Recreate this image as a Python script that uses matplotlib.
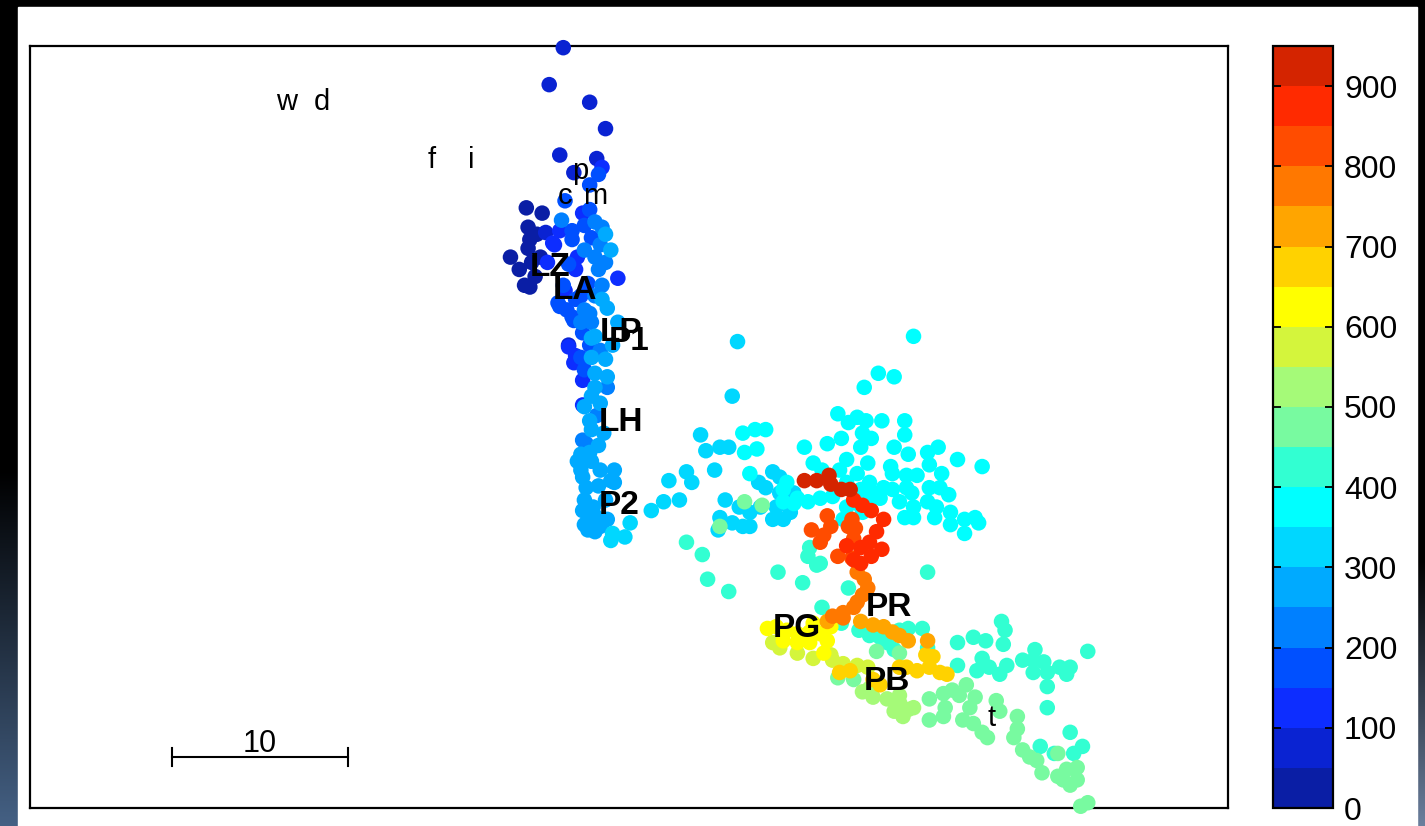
import numpy as np
import matplotlib
matplotlib.use('Agg')
import matplotlib.pyplot as plt
from matplotlib.colors import ListedColormap, BoundaryNorm
from matplotlib.cm import ScalarMappable
from matplotlib.patches import Rectangle

plt.rcParams['font.family'] = ['Liberation Sans', 'DejaVu Sans']

# colour scale: 19 bands of 50, 0..950
band_colors = ['#0A1EA5', '#0A23D2', '#0D2DFF', '#0050FF', '#0080FF', '#00AAFF',
               '#00D7FF', '#00FFFF', '#32FFD2', '#78FAA0', '#A5FA78', '#D4F53C',
               '#FFFF00', '#FFD200', '#FFA500', '#FF7800', '#FF4C00', '#FF2A00', '#D42400']
levels = list(range(0, 1000, 50))
cbar_ticks = list(range(0, 1000, 100))

# points (km), grouped by value
x_v25 = [28.2, 29.1, 28.3, 28.8, 28.4, 28.3, 27.3, 27.8, 28.4, 28.7, 29.0, 28.5, 28.1]
y_v25 = [34.1, 33.8, 33.0, 32.6, 32.3, 31.8, 31.3, 30.6, 29.6, 30.2, 31.3, 31.0, 29.7]

x_v75 = [30.3, 29.5, 31.8, 32.7, 30.1, 32.2, 30.9, 30.6, 29.3]
y_v75 = [43.2, 41.1, 40.1, 38.6, 37.1, 36.9, 36.1, 26.3, 32.7]

x_v125 = [32.5, 31.4, 31.1, 31.0, 33.4, 29.8, 30.6, 30.9, 31.4, 31.4, 29.7,
          30.1, 29.4, 30.4, 31.0]
y_v125 = [36.4, 33.8, 31.3, 30.6, 30.1, 32.0, 26.2, 25.3, 24.3, 22.9, 32.1,
          32.8, 31.0, 29.4, 25.7]

x_v175 = [32.3, 31.8, 30.8, 31.8, 31.9, 31.7, 30.8, 30.0, 30.5, 30.9, 31.4, 31.3, 30.1, 30.8, 31.5,
          30.4, 31.5, 30.6, 31.3, 30.3, 31.0, 31.8]
y_v175 = [36.0, 35.4, 32.8, 34.0, 32.4, 29.8, 32.3, 28.7, 28.3, 27.7, 27.0, 25.6, 28.5, 27.9, 24.9,
          34.5, 33.1, 30.9, 29.1, 29.7, 28.9, 26.3]

x_v225 = [30.2, 32.1, 32.5, 32.1, 32.3, 32.5, 31.5, 31.9, 31.8, 32.8, 31.6,
          32.4, 31.5, 32.7, 32.1, 31.3, 32.4, 32.2, 31.4]
y_v225 = [33.4, 33.3, 33.0, 31.3, 30.6, 29.7, 28.3, 27.6, 28.1, 23.9, 20.7,
          32.0, 31.7, 31.0, 29.1, 27.6, 26.0, 22.3, 20.9]

x_v275 = [32.8, 33.4, 32.1, 31.9, 32.7, 32.1, 32.8, 32.1, 31.9, 31.9, 32.4, 31.8, 31.9, 32.6, 31.3,
          31.8, 31.3, 32.4, 33.0, 31.6, 31.4, 32.0, 31.8, 32.4, 32.1, 33.2, 31.5, 32.1, 31.7,
          32.7, 33.0, 32.5, 33.1, 31.5, 32.3, 31.9, 31.1, 32.7, 31.4, 32.3, 32.8, 31.5, 33.2]
y_v275 = [28.4, 27.6, 26.8, 25.6, 25.5, 24.7, 24.5, 23.9, 26.7, 23.4, 23.0, 22.0, 21.5, 21.3, 20.1,
          20.2, 19.2, 19.2, 18.6, 18.2, 18.8, 17.1, 16.4, 16.0, 15.7, 18.5, 17.5, 16.6, 15.8,
          32.6, 31.7, 28.9, 26.3, 22.8, 20.6, 19.7, 19.7, 17.5, 16.9, 18.3, 16.4, 16.1, 19.2]

x_v325 = [33.1, 33.0, 33.8, 34.1, 35.3, 36.0, 36.9, 36.3, 37.3, 37.6, 38.1, 38.4, 38.9, 39.2, 39.7,
          40.2, 39.9, 39.5, 39.2, 39.1, 39.9, 40.5, 40.9, 40.9, 40.3, 41.4, 41.8, 42.2, 42.6, 42.6,
          42.4, 42.8, 42.2, 43.2, 43.4, 41.5]
y_v325 = [15.6, 15.2, 15.4, 16.2, 16.9, 17.4, 17.5, 18.6, 19.1, 18.5, 21.2, 20.3, 19.2, 20.5, 20.5,
          26.5, 23.4, 17.5, 16.5, 15.8, 16.2, 16.0, 16.0, 16.8, 17.1, 18.5, 18.2, 19.1, 18.8, 17.9,
          17.1, 16.4, 16.4, 16.8, 17.9, 17.1]

x_v375 = [40.5, 41.2, 41.8, 40.6, 41.3, 40.9, 43.0,
          50.2, 48.2, 49.1, 47.4, 45.9, 46.5, 47.0, 47.5, 48.4, 49.7, 49.7, 47.3, 47.8, 46.1,
          45.3, 44.0, 47.2, 49.1, 49.9, 51.0, 51.6, 52.7, 54.1, 46.4, 47.6, 48.9, 49.0, 49.8,
          50.4, 51.1, 51.8, 44.5, 45.0, 46.0, 47.0, 47.7, 48.5, 49.0, 49.8, 51.1, 51.7, 52.2,
          50.1, 49.4, 48.3, 47.9, 50.2, 51.0, 51.5, 52.3, 51.4, 49.7, 50.2, 52.3, 53.1, 53.7,
          53.9, 53.1, 47.2, 46.4, 45.6, 44.9, 44.2, 43.6, 42.8, 43.4, 42.8, 47.7, 47.0, 46.4,
          47.3, 46.2]
y_v375 = [21.3, 21.5, 21.5, 20.2, 20.4, 19.0, 18.5,
          26.8, 24.7, 24.5, 23.9, 22.4, 21.9, 22.2, 22.0, 22.0, 22.0, 21.2, 21.3, 21.0, 21.0,
          20.7, 20.5, 20.5, 20.5, 20.1, 20.2, 20.5, 19.8, 19.4, 19.8, 19.6, 19.4, 19.0, 18.9,
          18.9, 19.5, 19.0, 19.6, 19.2, 19.2, 19.0, 18.5, 18.2, 18.1, 18.2, 18.2, 18.2, 17.8,
          17.9, 17.4, 17.6, 17.9, 17.1, 17.4, 17.1, 16.8, 16.5, 16.5, 16.5, 16.1, 16.4, 16.5,
          16.2, 15.6, 18.1, 18.5, 17.7, 17.6, 17.4, 17.6, 18.1, 17.3, 17.4, 17.5, 17.3, 17.1,
          16.8, 16.4]

x_v425 = [44.3, 44.7, 42.5, 43.9, 39.7, 38.5, 38.2, 37.3, 51.0, 46.5, 45.0, 46.1, 47.1, 47.7,
          48.3, 48.7, 49.4, 49.9, 50.7, 51.0, 49.1, 52.7, 52.7, 53.6, 54.3, 54.1, 55.2, 55.4,
          55.3, 55.5, 55.1, 54.5, 53.8, 56.4, 57.1, 57.0, 57.0, 57.6, 57.8, 57.8, 58.5, 59.1,
          58.9, 60.1, 57.8, 59.1, 57.4, 58.2, 59.3, 59.8, 44.2, 44.9]
y_v425 = [14.8, 13.8, 13.4, 12.8, 12.3, 13.0, 14.4, 15.1, 13.4, 12.5, 11.4, 10.5, 10.1, 9.8,
          9.7, 9.4, 10.1, 10.2, 10.2, 9.1, 9.0, 9.4, 8.1, 9.7, 9.5, 8.5, 10.6, 10.1,
          9.3, 8.1, 7.6, 8.0, 7.8, 8.4, 9.0, 8.4, 7.7, 8.3, 7.7, 6.9, 8.0, 8.0,
          7.6, 8.9, 5.7, 4.3, 3.5, 3.1, 3.1, 3.5, 14.3, 13.9]

x_v475 = [40.6, 41.6, 39.2, 48.1, 49.4, 51.1, 51.9, 52.4, 53.2, 53.7, 52.8, 52.0, 51.1, 51.9,
          53.0, 53.6, 54.1, 54.4, 54.9, 55.1, 56.1, 56.1, 55.9, 56.4, 56.8, 57.5, 57.2, 58.4,
          58.9, 59.5, 59.5, 58.7, 59.1, 59.7, 60.1, 58.4, 45.9, 46.8, 53.4]
y_v475 = [17.4, 17.2, 16.0, 8.9, 8.8, 6.2, 6.5, 6.7, 7.0, 6.3, 6.4, 5.7, 5.0, 5.2,
          5.0, 4.8, 4.3, 4.0, 6.1, 5.5, 5.2, 4.5, 4.0, 3.3, 2.9, 2.0, 2.7, 3.1,
          2.2, 2.3, 1.6, 1.6, 1.3, 0.1, 0.3, 1.8, 7.4, 7.3, 5.7]

x_v525 = [47.9, 48.7, 49.4, 50.2, 49.6, 49.1, 47.7, 49.4, 49.9, 47.3]
y_v525 = [6.3, 6.2, 6.0, 5.7, 5.2, 5.5, 6.8, 6.4, 5.6, 6.6]

x_v575 = [42.2, 42.6, 43.6, 44.5, 45.6, 46.2, 47.0, 47.6, 45.5]
y_v575 = [9.4, 9.1, 8.8, 8.5, 8.4, 8.2, 8.1, 8.0, 8.7]

x_v625 = [41.9, 42.4, 43.0, 43.6, 44.3, 44.9, 45.3, 45.1, 44.3, 43.6, 42.8, 45.5, 44.5]
y_v625 = [10.2, 10.3, 10.1, 9.9, 10.0, 9.9, 9.5, 8.8, 9.4, 9.4, 9.5, 10.3, 10.5]

x_v675 = [51.3, 51.1, 51.7, 52.1, 50.4, 49.8, 49.4, 46.0, 46.6, 47.9, 48.3, 50.9]
y_v675 = [8.6, 8.0, 7.7, 7.6, 7.8, 8.0, 8.0, 7.7, 7.8, 7.3, 7.0, 8.7]

x_v725 = [47.2, 47.9, 48.5, 49.0, 49.9, 51.0, 45.3, 49.4]
y_v725 = [10.6, 10.4, 10.3, 10.0, 9.5, 9.5, 10.6, 9.8]

x_v775 = [47.0, 47.4, 47.6, 47.3, 46.8, 46.2, 45.6, 47.0, 46.2]
y_v775 = [13.4, 13.0, 12.5, 12.1, 11.4, 11.1, 10.9, 11.7, 10.8]

x_v825 = [46.5, 46.7, 46.9, 46.8, 45.3, 45.5, 45.1, 44.4, 44.9, 45.9, 46.7]
y_v825 = [16.0, 16.4, 15.9, 15.3, 16.6, 16.0, 15.5, 15.8, 15.1, 14.3, 14.2]

x_v875 = [46.8, 47.3, 47.8, 48.5, 48.1, 47.7, 48.4, 47.8, 47.2, 46.4, 47.2, 46.8]
y_v875 = [17.5, 17.2, 16.9, 16.4, 15.7, 15.1, 14.7, 14.3, 13.9, 14.9, 14.8, 14.1]

x_v925 = [44.0, 44.7, 45.4, 45.5, 46.1, 46.6]
y_v925 = [18.6, 18.6, 18.9, 18.4, 18.1, 18.1]

groups = [(25, x_v25, y_v25), (75, x_v75, y_v75), (125, x_v125, y_v125),
          (175, x_v175, y_v175), (225, x_v225, y_v225), (275, x_v275, y_v275),
          (325, x_v325, y_v325), (375, x_v375, y_v375), (425, x_v425, y_v425),
          (475, x_v475, y_v475), (525, x_v525, y_v525), (575, x_v575, y_v575),
          (625, x_v625, y_v625), (675, x_v675, y_v675), (725, x_v725, y_v725),
          (775, x_v775, y_v775), (825, x_v825, y_v825), (875, x_v875, y_v875),
          (925, x_v925, y_v925)]

# station labels (left edge, vertical centre)
label_text = ['w', 'd', 'f', 'i', 'p', 'c', 'm', 't',
              'LZ', 'LA', 'LP', 'P1', 'LH', 'P2', 'PR', 'PG', 'PB']
label_x = [14.0, 16.1, 22.6, 24.9, 30.8, 30.0, 31.4, 54.4,
           28.4, 29.7, 32.4, 32.9, 32.3, 32.3, 47.5, 42.2, 47.4]
label_y = [40.1, 40.1, 36.8, 36.8, 36.2, 34.8, 34.8, 5.1,
           30.7, 29.4, 27.0, 26.5, 21.9, 17.2, 11.4, 10.2, 7.2]
label_bold = [False] * 8 + [True] * 9

scale_x0, scale_len, scale_y = 8.07, 10, 2.9

x = np.concatenate([g[1] for g in groups])
y = np.concatenate([g[2] for g in groups])
v = np.concatenate([[g[0]] * len(g[1]) for g in groups])

cmap = ListedColormap(band_colors)
norm = BoundaryNorm(levels, cmap.N)

W, H = 1425, 826
fig = plt.figure(figsize=(W / 100, H / 100), dpi=100, facecolor='black')

# dark photo edges behind a white panel
bg = fig.add_axes([0, 0, 1, 1], zorder=-10)
img = np.zeros((H, W, 3))
rows = np.arange(H)
left_ramp = np.clip((rows - 470) / (H - 470), 0, 1)
right_ramp = np.clip((rows - 560) / (H - 560), 0, 1)
img[:, :18, :] = left_ramp[:, None, None] * np.array([0.27, 0.38, 0.52])
img[:, 1417:, :] = right_ramp[:, None, None] * np.array([0.42, 0.50, 0.62])
bg.imshow(img, extent=[0, W, 0, H], aspect='auto', interpolation='bilinear')
bg.add_patch(Rectangle((18, 0), 1417 - 18, H - 7, color='white'))
bg.set_xlim(0, W)
bg.set_ylim(0, H)
bg.axis('off')

ax = fig.add_axes([30 / W, 18 / H, 1198 / W, 762 / H])
ax.set_xlim(0, 1198 / 17.6)
ax.set_ylim(0, 762 / 17.6)
ax.set_xticks([])
ax.set_yticks([])
for s in ax.spines.values():
    s.set_linewidth(1.6)

order = np.argsort(v, kind='stable')
ax.scatter(x[order], y[order], c=v[order], cmap=cmap, norm=norm, s=125,
           linewidths=0, clip_on=False, zorder=3)

for t, lx, ly, b in zip(label_text, label_x, label_y, label_bold):
    ax.text(lx, ly, t, ha='left', va='center', zorder=5,
            fontsize=24 if b else 21, fontweight='bold' if b else 'normal')

# scale bar
ax.plot([scale_x0, scale_x0 + scale_len], [scale_y, scale_y], color='black', lw=1.5, zorder=4)
for ex in (scale_x0, scale_x0 + scale_len):
    ax.plot([ex, ex], [scale_y - 0.5, scale_y + 0.5], color='black', lw=1.5, zorder=4)
ax.text(scale_x0 + scale_len / 2, scale_y + 0.3, str(scale_len), ha='center', va='baseline', fontsize=22)

cax = fig.add_axes([1273 / W, 18 / H, 60 / W, 762 / H])
cb = fig.colorbar(ScalarMappable(norm=norm, cmap=cmap), cax=cax, ticks=cbar_ticks)
cb.minorticks_off()
cb.outline.set_linewidth(1.6)
cax.yaxis.set_ticks_position('both')
cax.tick_params(which='minor', length=0)
cax.tick_params(direction='in', length=6, width=1.3, labelsize=23, pad=8,
                left=True, right=True, labelleft=False, labelright=True)

fig.savefig('out.png', dpi=100, facecolor=fig.get_facecolor())
